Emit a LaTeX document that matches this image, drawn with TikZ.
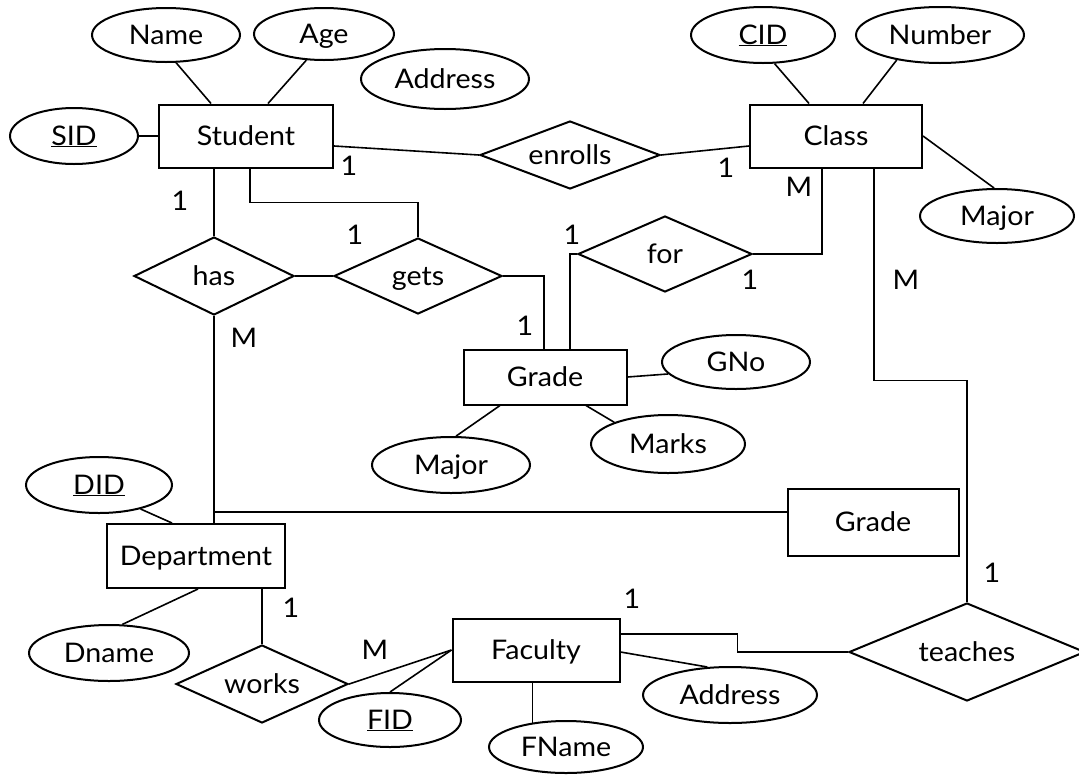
\documentclass[tikz,border=0pt]{standalone}
\usepackage{fontspec}
\setmainfont{Lato}[FakeStretch=1.06]
\usetikzlibrary{shapes.geometric,calc}
\begin{document}
\begin{tikzpicture}[x=1pt,y=-1pt,
  every node/.style={font=\fontsize{27}{32}\selectfont, text height=18pt, text depth=0pt},
  ent/.style={draw, line width=2pt, rectangle, inner sep=0pt},
  att/.style={draw, line width=2pt, ellipse, inner sep=0pt},
  rel/.style={draw, line width=2pt, diamond, inner sep=0pt},
  con/.style={line width=1.6pt},
  card/.style={inner sep=0pt}]
\useasboundingbox (0,0) rectangle (1079,774);

% entities
\node[ent, minimum width=174pt, minimum height=63pt] (Student) at (246,136) {Student};
\node[ent, minimum width=172pt, minimum height=63pt] (Class) at (836,136) {Class};
\node[ent, minimum width=163pt, minimum height=55pt] (Grade) at (545,377) {Grade};
\node[ent, minimum width=171pt, minimum height=67pt] (Grade2) at (873,522) {Grade};
\node[ent, minimum width=178pt, minimum height=64pt] (Department) at (196,556) {Department};
\node[ent, minimum width=167pt, minimum height=63pt] (Faculty) at (536,650) {Faculty};

% attributes
\node[att, minimum width=148pt, minimum height=54pt] (Name) at (166,35) {Name};
\node[att, minimum width=140pt, minimum height=52pt] (Age) at (324,34) {Age};
\node[att, minimum width=168pt, minimum height=60pt] (AddressS) at (445,79) {Address};
\node[att, minimum width=128pt, minimum height=56pt] (SID) at (74,136) {\underline{SID}};
\node[att, minimum width=144pt, minimum height=56pt] (CID) at (763,35) {\underline{CID}};
\node[att, minimum width=168pt, minimum height=56pt] (Number) at (940,35) {Number};
\node[att, minimum width=154pt, minimum height=54pt] (MajorC) at (997,216) {Major};
\node[att, minimum width=148pt, minimum height=54pt] (GNo) at (736,362) {GNo};
\node[att, minimum width=154pt, minimum height=58pt] (Marks) at (668,444) {Marks};
\node[att, minimum width=158pt, minimum height=56pt] (MajorG) at (451,465) {Major};
\node[att, minimum width=146pt, minimum height=56pt] (DID) at (99,485) {\underline{DID}};
\node[att, minimum width=160pt, minimum height=56pt] (Dname) at (109,653) {Dname};
\node[att, minimum width=142pt, minimum height=54pt] (FID) at (390,720) {\underline{FID}};
\node[att, minimum width=154pt, minimum height=52pt] (FName) at (566,747) {FName};
\node[att, minimum width=174pt, minimum height=56pt] (AddressF) at (730,695) {Address};

% relationships
\node[rel, minimum width=180pt, minimum height=68pt, shape aspect=2.65] (enrolls) at (570,155) {enrolls};
\node[rel, minimum width=160pt, minimum height=78pt, shape aspect=2.05] (has) at (214,276) {has};
\node[rel, minimum width=168pt, minimum height=76pt, shape aspect=2.2] (gets) at (418,276) {gets};
\node[rel, minimum width=174pt, minimum height=76pt, shape aspect=2.3] (for) at (665,254) {for};
\node[rel, minimum width=172pt, minimum height=78pt, shape aspect=2.2] (works) at (262,684) {works};
\node[rel, minimum width=236pt, minimum height=98pt, shape aspect=2.4] (teaches) at (967,652) {teaches};

% attribute connectors
\draw[con] (Name.-70) -- ([xshift=-35pt]Student.north);
\draw[con] (Age.-124) -- ([xshift=22pt]Student.north);
\draw[con] (SID.east) -- (Student.west);
\draw[con] (CID.-68) -- ([xshift=-27pt]Class.north);
\draw[con] (Number.-150) -- ([xshift=27pt]Class.north);
\draw[con] (MajorC.96) -- (Class.east);
\draw[con] (GNo.190) -- (Grade.east);
\draw[con] (Marks.158) -- ([xshift=41pt]Grade.south);
\draw[con] (MajorG.80) -- ([xshift=-45pt]Grade.south);
\draw[con] (DID.-30) -- ([xshift=-24pt]Department.north);
\draw[con] (Dname.65) -- ([xshift=2pt]Department.south);
\draw[con] (FID.north) -- (Faculty.west);
\draw[con] (Faculty.south -| FName.144) -- (FName.144);
\draw[con] (AddressF.129) -- ([yshift=-2pt]Faculty.east);

% relationship connectors
\draw[con] ([yshift=-10pt]Student.east) -- (enrolls.west);
\draw[con] (enrolls.east) -- ([yshift=-10pt]Class.west);
\draw[con] (has.north |- Student.south) -- (has.north);
\draw[con] (has.east) -- (gets.west);
\draw[con] ([xshift=4pt]Student.south) -- ++(0,34) -| (gets.north);
\draw[con] (gets.east) -| ([xshift=-1pt]Grade.north);
\draw[con] (for.west) -| ([xshift=25pt]Grade.north);
\draw[con] (for.east) -| ([xshift=-14pt]Class.south);
\draw[con] ([xshift=38pt]Class.south) -- ++(0,212) -| (teaches.north);
\draw[con] (has.south) -- (has.south |- Department.north);
\draw[con] (has.south) |- ([yshift=10pt]Grade2.west);
\draw[con] (works.north |- Department.south) -- (works.north);
\draw[con] (works.east) -- (Faculty.west);
\draw[con] ([yshift=16pt]Faculty.east) -- ++(117,0) |- (teaches.west);

% cardinalities
\node[card] (c1) at (349,166) {1};
\node[card] (c2) at (180,201) {1};
\node[card] (c3) at (355,235) {1};
\node[card] (c4) at (726,168) {1};
\node[card] (c5) at (799,187) {M};
\node[card] (c6) at (572,235) {1};
\node[card] (c7) at (750,280) {1};
\node[card] (c8) at (906,280) {M};
\node[card] (c9) at (244,338) {M};
\node[card] (c10) at (525,326) {1};
\node[card] (c11) at (291,608) {1};
\node[card] (c12) at (375,650) {M};
\node[card] (c13) at (632,599) {1};
\node[card] (c14) at (992,573) {1};
\end{tikzpicture}
\end{document}
